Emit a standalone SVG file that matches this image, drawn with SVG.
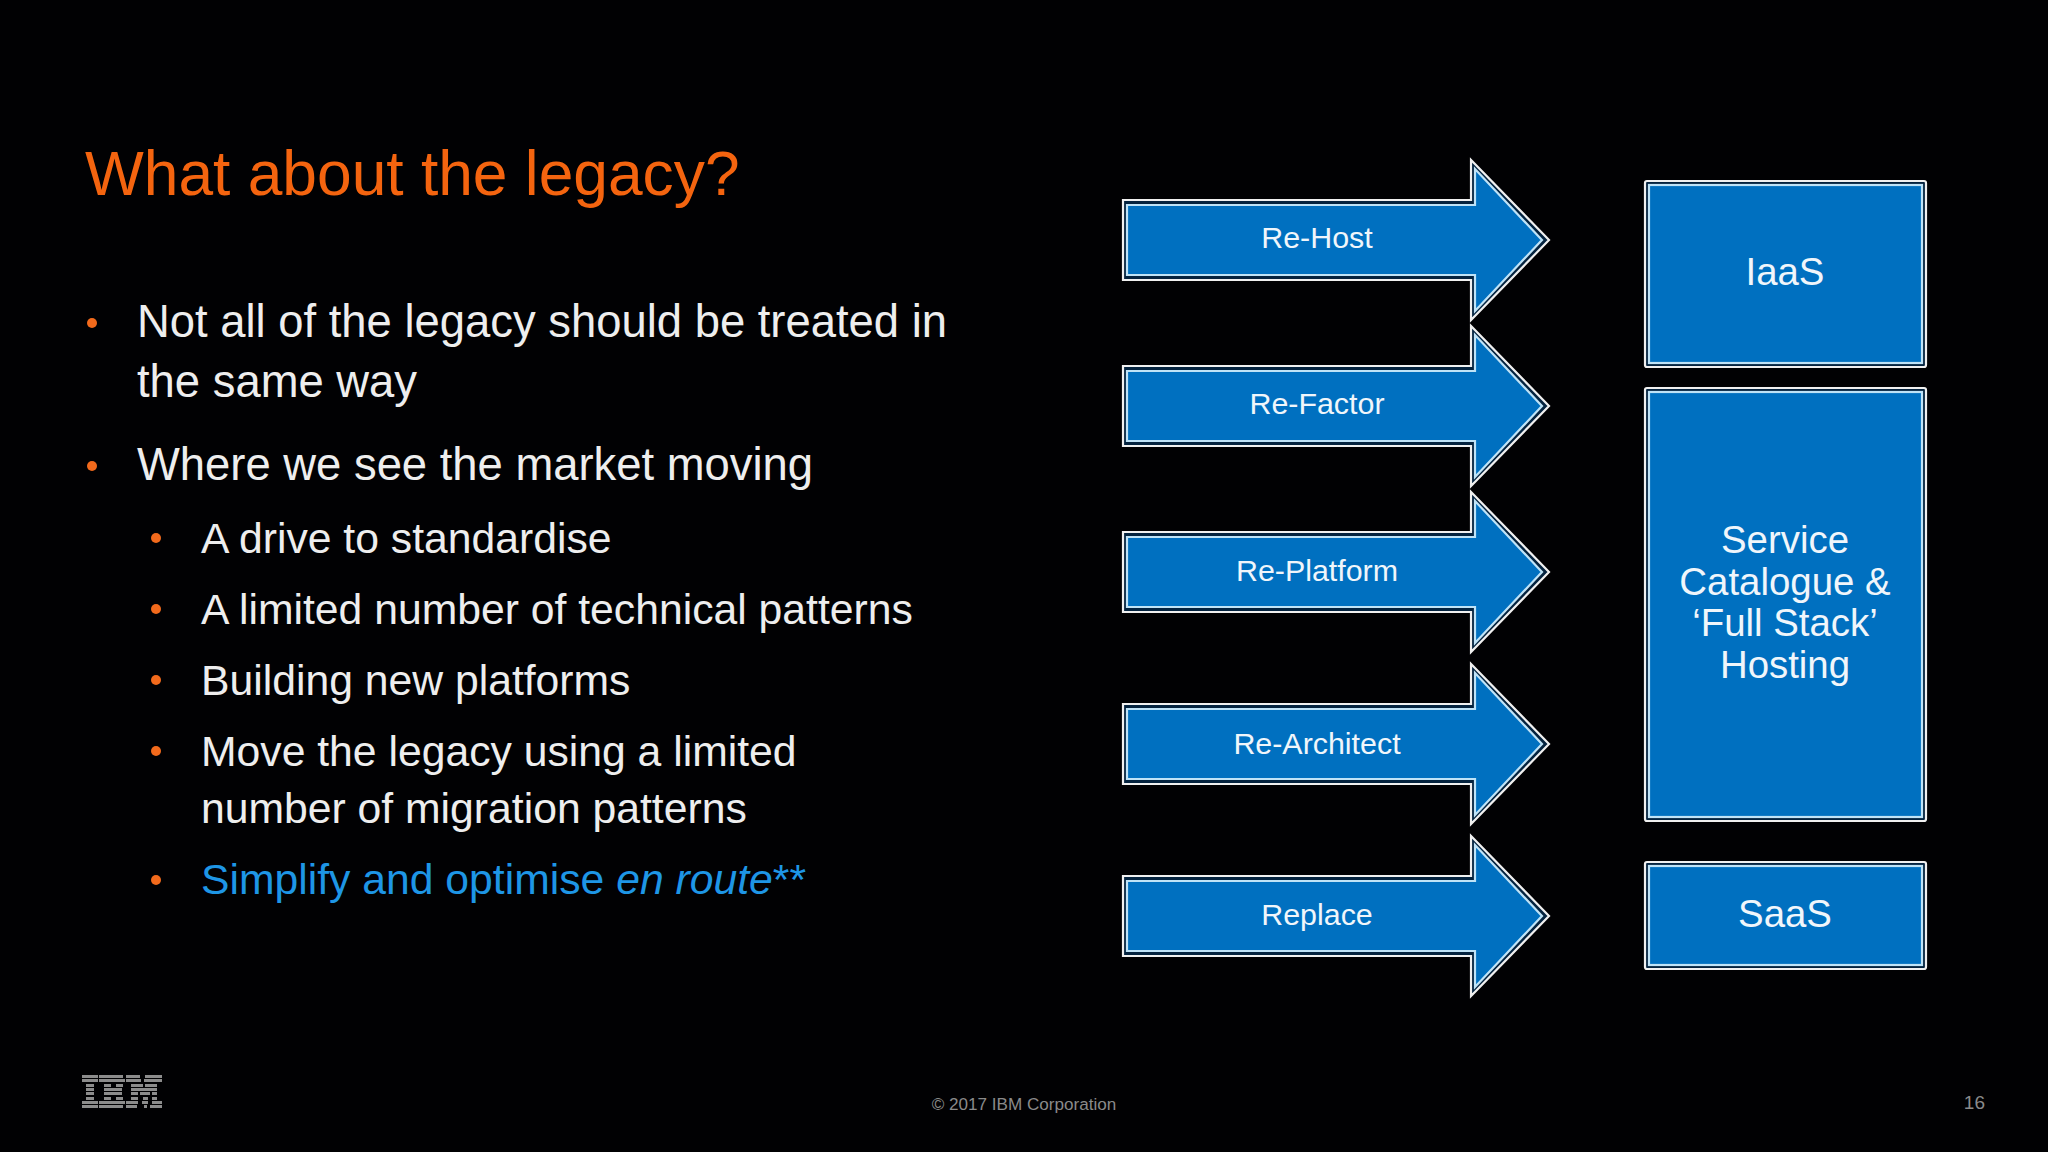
<svg xmlns="http://www.w3.org/2000/svg" xmlns:xlink="http://www.w3.org/1999/xlink" width="2048" height="1152" viewBox="0 0 2048 1152">
<style>
text{font-family:"Liberation Sans",Arial,sans-serif}
.title{font-size:62.3px;fill:#f4640f}
.l1{font-size:45.4px;fill:#eeeeee}
.l2{font-size:42.7px;fill:#eeeeee}
.bul{fill:#f26a1c}
.blue{fill:#1e96e6}
.lab{font-size:30.4px;fill:#f0f6fb;text-anchor:middle}
.big{font-size:38.4px;fill:#f0f6fb;text-anchor:middle}
.o{fill:#04233f;stroke:#f0f0f0;stroke-width:2.2}
.i{fill:#0070c0;stroke:#bfe3f7;stroke-width:2.2}
.foot{font-size:17.1px;fill:#8a8a8a}
.ibm{fill:#8c8c8c}
</style>
<defs>
<g id="arr">
<polygon class="o" points="1123,-40 1471,-40 1471,-80 1549,0 1471,80 1471,40 1123,40"/>
<polygon class="i" points="1127,-35 1475,-35 1475,-71 1542,0 1475,71 1475,35 1127,35"/>
</g>
</defs>
<rect width="2048" height="1152" fill="#010103"/>
<g id="slide-text">
<text class="title" x="85" y="195">What about the legacy?</text>
<circle class="bul" cx="92" cy="323" r="5"/>
<text class="l1" x="137" y="337">Not all of the legacy should be treated in</text>
<text class="l1" x="137" y="397">the same way</text>
<circle class="bul" cx="92" cy="466" r="5"/>
<text class="l1" x="137" y="480">Where we see the market moving</text>
<circle class="bul" cx="156" cy="538" r="5"/>
<text class="l2" x="201" y="553">A drive to standardise</text>
<circle class="bul" cx="156" cy="609" r="5"/>
<text class="l2" x="201" y="624">A limited number of technical patterns</text>
<circle class="bul" cx="156" cy="680" r="5"/>
<text class="l2" x="201" y="695">Building new platforms</text>
<circle class="bul" cx="156" cy="751" r="5"/>
<text class="l2" x="201" y="766">Move the legacy using a limited</text>
<text class="l2" x="201" y="823">number of migration patterns</text>
<circle class="bul" cx="156" cy="880" r="5"/>
<text class="l2 blue" x="201" y="894">Simplify and optimise <tspan font-style="italic">en route</tspan>**</text>
</g>
<g id="connectors"></g>
<g id="re-host"><use xlink:href="#arr" href="#arr" y="240"/><text class="lab" x="1317" y="248">Re-Host</text></g>
<g id="re-factor"><use xlink:href="#arr" href="#arr" y="406"/><text class="lab" x="1317" y="414">Re-Factor</text></g>
<g id="re-platform"><use xlink:href="#arr" href="#arr" y="572"/><text class="lab" x="1317" y="581">Re-Platform</text></g>
<g id="re-architect"><use xlink:href="#arr" href="#arr" y="744"/><text class="lab" x="1317" y="754">Re-Architect</text></g>
<g id="replace"><use xlink:href="#arr" href="#arr" y="916"/><text class="lab" x="1317" y="925">Replace</text></g>
<g id="iaas"><rect class="o" x="1645" y="181" width="281" height="186" rx="2"/><rect class="i" x="1649" y="185" width="273" height="178"/><text class="big" x="1785" y="285">IaaS</text></g>
<g id="service"><rect class="o" x="1645" y="388" width="281" height="433" rx="2"/><rect class="i" x="1649" y="392" width="273" height="425"/><text class="big" x="1785" y="553">Service</text><text class="big" x="1785" y="595">Catalogue &amp;</text><text class="big" x="1785" y="636">‘Full Stack’</text><text class="big" x="1785" y="678">Hosting</text></g>
<g id="saas"><rect class="o" x="1645" y="862" width="281" height="107" rx="2"/><rect class="i" x="1649" y="866" width="273" height="99"/><text class="big" x="1785" y="927">SaaS</text></g>
<g id="footer">
<text class="foot" x="1024" y="1110" text-anchor="middle">© 2017 IBM Corporation</text>
<text class="foot" x="1985" y="1109" text-anchor="end" style="font-size:19px">16</text>
<path class="ibm" d="M82 1075h16v3h-16zM82 1079h16v3h-16zM86 1084h8v3h-8zM86 1088h8v3h-8zM86 1092h8v3h-8zM86 1097h8v3h-8zM82 1101h16v3h-16zM82 1105h16v3h-16z
M99 1075h24v3h-24zM99 1079h26v3h-26zM104 1084h7v3h-7zM116 1084h7v3h-7zM104 1088h18v3h-18zM104 1092h18v3h-18zM104 1097h7v3h-7zM116 1097h7v3h-7zM99 1101h26v3h-26zM99 1105h24v3h-24z
M126 1075h14v3h-14zM145 1075h17v3h-17zM126 1079h15v3h-15zM144 1079h18v3h-18zM131 1084h12v3h-12zM145 1084h12v3h-12zM131 1088h26v3h-26zM131 1092h7v3h-7zM140 1092h10v3h-10zM152 1092h5v3h-5zM131 1097h7v3h-7zM143 1097h5v3h-5zM152 1097h5v3h-5zM126 1101h12v3h-12zM142 1101h6v3h-6zM152 1101h10v3h-10zM126 1105h11v3h-11zM144 1105h3v3h-3zM150 1105h12v3h-12z"/>
</g>
</svg>
